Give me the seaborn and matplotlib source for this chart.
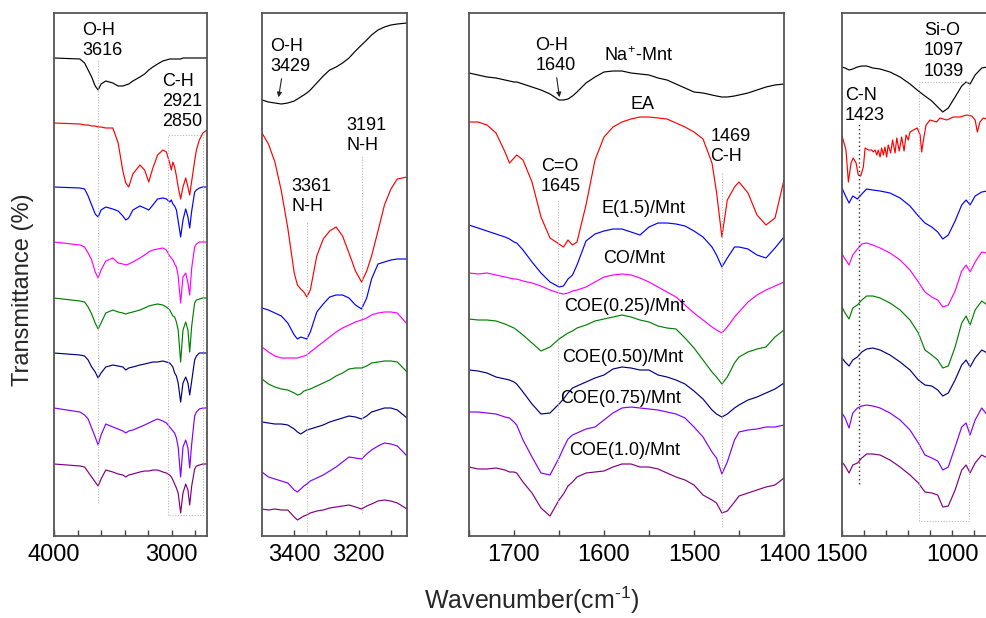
import matplotlib
matplotlib.use("Agg")
import matplotlib.pyplot as plt
import numpy as np
import pandas as pd
import seaborn as sns
from matplotlib.ticker import FixedLocator, FuncFormatter

# ---------------- data (arbitrary transmittance units, stacked) ----------------
SAMPLES = ["Na+-Mnt", "EA", "E(1.5)/Mnt", "CO/Mnt",
           "COE(0.25)/Mnt", "COE(0.50)/Mnt", "COE(0.75)/Mnt", "COE(1.0)/Mnt"]
COLORS = ["#000000", "#FF0000", "#0000FF", "#FF00FF",
          "#008000", "#000080", "#8000FF", "#800080"]

# Panel 1: 4000-2700 cm-1
P1_W = [4000, 3780, 3740, 3710, 3680, 3650, 3625, 3600, 3560, 3500, 3455, 3415, 3390,
        3365, 3330, 3270, 3230, 3195, 3160, 3120, 3075, 3045, 3017, 3003, 2990, 2975,
        2960, 2945, 2924, 2904, 2881, 2862, 2847, 2830, 2805, 2790, 2765, 2735, 2700]
P1_NA = [478, 477, 473, 466, 459, 450, 446, 452, 455, 453, 450, 450, 451, 452, 455, 459,
         462, 466, 469, 472, 475, 476, 477, 477, 477, 477, 477, 477, 477, 478, 478, 478,
         478, 478, 478, 478, 478, 478, 478]
P1_EA = [413, 412, 411, 411, 410, 410, 409, 409, 408, 408, 393, 365, 353, 349, 362, 371,
         366, 354, 368, 381, 386, 384, 373, 366, 374, 369, 360, 349, 337, 349, 358, 349,
         341, 355, 375, 386, 396, 403, 406]
P1_E15 = [349, 348, 347, 340, 331, 322, 319, 326, 329, 327, 325, 320, 316, 318, 326, 330,
          328, 326, 331, 337, 338, 337, 334, 336, 332, 330, 326, 315, 299, 316, 327, 319,
          308, 325, 344, 346, 348, 349, 349]
P1_CO = [294, 291, 289, 283, 276, 264, 258, 266, 275, 278, 273, 272, 271, 272, 274, 278,
         281, 284, 286, 287, 288, 286, 280, 278, 276, 272, 269, 260, 233, 259, 263, 253,
         241, 268, 289, 292, 294, 294, 294]
P1_C025 = [238, 235, 234, 229, 222, 213, 207, 213, 223, 226, 224, 223, 222, 223, 224, 226,
           228, 230, 231, 232, 231, 229, 226, 223, 220, 219, 214, 206, 174, 206, 214, 206,
           184, 210, 233, 236, 237, 238, 238]
P1_C050 = [183, 181, 180, 176, 169, 164, 158, 163, 169, 171, 170, 169, 166, 168, 169, 171,
           172, 173, 174, 174, 175, 174, 173, 171, 169, 163, 160, 153, 134, 153, 159, 153,
           141, 155, 176, 180, 183, 183, 183]
P1_C075 = [128, 124, 121, 117, 108, 99, 91, 101, 112, 109, 107, 105, 103, 105, 106, 109,
           111, 113, 115, 117, 115, 113, 109, 107, 105, 103, 98, 89, 59, 89, 96, 88,
           68, 92, 120, 124, 127, 128, 128]
P1_C100 = [72, 70, 69, 64, 59, 54, 50, 57, 66, 64, 62, 61, 59, 61, 62, 64, 65, 65, 66, 66,
           64, 63, 61, 59, 56, 52, 48, 43, 23, 43, 52, 46, 31, 50, 67, 70, 71, 72, 72]

# Panel 2: 3500-3050 cm-1
P2_W = [3500, 3480, 3460, 3440, 3420, 3400, 3390, 3380, 3370, 3361, 3350, 3330, 3310,
        3290, 3270, 3250, 3230, 3210, 3191, 3175, 3160, 3140, 3120, 3100, 3080, 3050]
P2_NA = [436, 434, 433, 432, 433, 435, 437, 439, 441, 443, 446, 453, 460, 466, 469, 473,
         478, 485, 491, 496, 501, 506, 509, 511, 512, 513]
P2_EA = [403, 392, 374, 345, 308, 263, 251, 247, 244, 239, 246, 280, 297, 305, 309, 300,
         283, 265, 254, 265, 280, 305, 331, 347, 357, 359]
P2_E15 = [228, 226, 223, 220, 213, 201, 197, 199, 198, 197, 204, 224, 232, 239, 241, 241,
          238, 231, 227, 238, 257, 272, 274, 276, 277, 277]
P2_CO = [189, 184, 180, 178, 178, 178, 178, 179, 180, 181, 184, 189, 194, 199, 204, 208,
         211, 214, 216, 218, 221, 223, 224, 224, 223, 212]
P2_C025 = [157, 152, 149, 147, 146, 143, 141, 142, 145, 146, 147, 150, 153, 156, 160, 163,
           167, 168, 168, 170, 173, 174, 175, 175, 174, 164]
P2_C050 = [114, 113, 112, 112, 111, 107, 104, 102, 104, 106, 107, 109, 111, 114, 116, 118,
           120, 119, 117, 120, 124, 126, 128, 128, 126, 118]
P2_C075 = [64, 59, 57, 55, 53, 46, 44, 47, 50, 52, 55, 58, 61, 65, 69, 74, 79, 78, 77, 82,
           86, 90, 93, 92, 90, 80]
P2_C100 = [27, 26, 27, 26, 26, 19, 16, 18, 20, 21, 23, 25, 26, 28, 29, 30, 31, 29, 27, 30,
           32, 35, 36, 35, 33, 27]

# Panel 3: 1750-1400 cm-1
P3_W = [1750, 1740, 1730, 1720, 1710, 1705, 1700, 1697, 1690, 1680, 1670, 1660, 1650,
        1645, 1640, 1635, 1630, 1620, 1610, 1600, 1590, 1580, 1570, 1560, 1550, 1540,
        1530, 1520, 1510, 1500, 1490, 1480, 1475, 1469, 1463, 1455, 1450, 1440, 1430,
        1420, 1410, 1400]
P3_NA = [463, 461, 459, 458, 456, 455, 454, 454, 452, 449, 446, 442, 436, 436, 437, 440,
         444, 453, 459, 464, 465, 465, 463, 462, 461, 458, 456, 452, 448, 444, 443, 441,
         440, 439, 439, 440, 441, 443, 446, 449, 451, 452]
P3_EA = [414, 414, 411, 403, 384, 373, 378, 381, 376, 354, 319, 298, 292, 289, 296, 291,
         294, 331, 376, 399, 409, 414, 417, 419, 419, 418, 417, 413, 409, 404, 397, 373,
         344, 299, 336, 349, 354, 343, 321, 311, 318, 356]
P3_E15 = [311, 308, 305, 302, 299, 297, 294, 293, 286, 274, 263, 254, 249, 250, 257, 261,
          271, 295, 302, 305, 307, 307, 304, 301, 309, 313, 313, 312, 310, 305, 299, 289,
          281, 269, 278, 289, 289, 287, 281, 278, 288, 299]
P3_CO = [263, 262, 263, 261, 259, 258, 257, 257, 255, 253, 250, 246, 243, 242, 243, 245,
         246, 249, 254, 259, 261, 262, 261, 258, 254, 249, 244, 239, 231, 223, 216, 209,
         206, 203, 209, 219, 224, 234, 241, 246, 250, 254]
P3_C025 = [217, 216, 216, 215, 212, 210, 208, 206, 201, 193, 185, 189, 197, 200, 203, 205,
           208, 211, 215, 217, 219, 221, 219, 216, 214, 210, 208, 207, 198, 188, 176, 164,
           159, 152, 159, 173, 179, 184, 187, 189, 199, 206]
P3_C050 = [166, 165, 163, 159, 157, 156, 154, 152, 144, 132, 122, 123, 132, 137, 143, 148,
           150, 154, 158, 161, 167, 169, 168, 166, 166, 161, 159, 156, 152, 145, 137, 126,
           122, 119, 122, 128, 131, 136, 139, 143, 147, 153]
P3_C075 = [124, 124, 123, 122, 119, 118, 114, 111, 96, 79, 63, 61, 78, 88, 97, 101, 103,
           107, 109, 116, 123, 128, 129, 128, 127, 126, 124, 122, 118, 109, 99, 84, 78, 62,
           74, 96, 104, 106, 107, 109, 109, 111]
P3_C100 = [69, 67, 67, 68, 66, 64, 64, 63, 54, 43, 28, 20, 36, 42, 50, 54, 59, 63, 64, 65,
           69, 72, 72, 69, 69, 67, 63, 59, 56, 51, 41, 36, 33, 23, 25, 34, 40, 43, 46, 49,
           51, 58]

# Panel 4: 1500-840 cm-1
P4_W = [1500, 1486, 1468, 1451, 1430, 1410, 1388, 1360, 1327, 1282, 1236, 1191, 1153,
        1123, 1092, 1065, 1042, 1017, 986, 956, 936, 918, 895, 865, 840]
P4_NA = [469, 468, 466, 467, 469, 470, 470, 468, 467, 464, 459, 452, 445, 440, 435, 429,
         424, 428, 439, 450, 454, 452, 461, 468, 469]
P4_EA_W = [1500, 1497, 1482, 1471, 1459, 1449, 1436, 1426, 1415, 1403, 1395, 1380, 1365,
           1358, 1350, 1342, 1335, 1327, 1320, 1312, 1305, 1297, 1290, 1279, 1270, 1259,
           1251, 1240, 1229, 1218, 1209, 1199, 1191, 1176, 1158, 1145, 1138, 1130, 1118,
           1100, 1070, 1055, 1024, 994, 964, 933, 910, 895, 885, 873, 858, 843]
P4_EA = [400, 398, 386, 354, 373, 378, 373, 361, 360, 369, 388, 386, 386, 384, 386, 381,
         386, 379, 388, 381, 389, 379, 391, 383, 396, 383, 398, 385, 399, 385, 401, 396,
         404, 406, 408, 401, 384, 396, 411, 416, 414, 418, 416, 419, 419, 421, 420, 416,
         404, 414, 418, 417]
P4_E15 = [348, 341, 333, 340, 337, 342, 347, 346, 345, 343, 338, 330, 320, 313, 309, 304,
          297, 301, 315, 331, 336, 331, 340, 344, 345]
P4_CO = [282, 277, 271, 281, 287, 292, 293, 291, 288, 283, 276, 266, 254, 244, 239, 236,
         229, 231, 245, 265, 271, 264, 274, 284, 283]
P4_C025 = [229, 223, 217, 228, 231, 236, 240, 240, 238, 233, 226, 216, 203, 186, 181, 176,
           168, 170, 189, 213, 220, 211, 226, 235, 231]
P4_C050 = [178, 174, 170, 176, 179, 184, 187, 188, 186, 181, 174, 166, 156, 151, 150, 146,
           140, 143, 156, 171, 176, 169, 178, 186, 183]
P4_C075 = [123, 118, 108, 123, 128, 130, 131, 130, 128, 123, 116, 106, 93, 81, 78, 75, 66,
           69, 89, 109, 113, 101, 116, 128, 121]
P4_C100 = [74, 70, 63, 71, 73, 78, 82, 82, 81, 76, 69, 61, 53, 44, 43, 41, 29, 30, 46, 66,
           71, 63, 73, 81, 78]

# band positions marked with guide lines
P1_OH_LINE = 3625
P1_CH_BOX = (3031, 2735)
P2_NH_LINES = [3361, 3191]
P3_LINES = [1651, 1469]
P4_CN_LINE = 1423
P4_SIO_BOX = (1148, 921)

# ---------------- style ----------------
sns.set_style("ticks")
plt.rcParams["font.family"] = ["Liberation Sans", "DejaVu Sans"]
plt.rcParams["mathtext.fontset"] = "custom"
plt.rcParams["mathtext.rm"] = "Liberation Sans"
plt.rcParams["mathtext.it"] = "Liberation Sans:italic"
plt.rcParams["mathtext.default"] = "regular"

W_PX, H_PX, DPI = 987, 618, 100
fig = plt.figure(figsize=(W_PX / DPI, H_PX / DPI), dpi=DPI)

TOP, BOT = 13, 536
def axes_px(x0, x1):
    return fig.add_axes([x0 / W_PX, (H_PX - BOT) / H_PX, (x1 - x0) / W_PX, (BOT - TOP) / H_PX])

ax1 = axes_px(54, 207)
ax2 = axes_px(262, 407)
ax3 = axes_px(469, 784)
ax4 = axes_px(842, 1000)

palette = dict(zip(SAMPLES, COLORS))


def frame(wlist, ylists, names):
    parts = []
    for w, y, n in zip(wlist, ylists, names):
        parts.append(pd.DataFrame({"wavenumber": w, "transmittance": y, "sample": n}))
    return pd.concat(parts, ignore_index=True)


def draw(ax, df, xlim, ticks, labelled):
    sns.lineplot(data=df, x="wavenumber", y="transmittance", hue="sample",
                 hue_order=SAMPLES, palette=palette, estimator=None, sort=True,
                 legend=False, lw=0.85, ax=ax)
    ax.set_xlim(*xlim)
    ax.set_ylim(0, BOT - TOP)
    ax.set_yticks([])
    ax.set_xlabel("")
    ax.set_ylabel("")
    ax.xaxis.set_major_locator(FixedLocator(ticks))
    ax.xaxis.set_major_formatter(FuncFormatter(lambda v, p: f"{v:.0f}" if round(v) in labelled else ""))
    ax.tick_params(axis="x", direction="in", length=4, width=1.0, labelsize=17, pad=6,
                   colors="#444444", labelcolor="black")
    for s in ax.spines.values():
        s.set_visible(True)
        s.set_color("#555555")
        s.set_linewidth(1.3)


df1 = frame([P1_W] * 8, [P1_NA, P1_EA, P1_E15, P1_CO, P1_C025, P1_C050, P1_C075, P1_C100], SAMPLES)
df2 = frame([P2_W] * 8, [P2_NA, P2_EA, P2_E15, P2_CO, P2_C025, P2_C050, P2_C075, P2_C100], SAMPLES)
df3 = frame([P3_W] * 8, [P3_NA, P3_EA, P3_E15, P3_CO, P3_C025, P3_C050, P3_C075, P3_C100], SAMPLES)
df4 = frame([P4_W, P4_EA_W] + [P4_W] * 6,
            [P4_NA, P4_EA, P4_E15, P4_CO, P4_C025, P4_C050, P4_C075, P4_C100], SAMPLES)

draw(ax1, df1, (4000, 2700), list(range(4000, 2699, -200)), {4000, 3000})
draw(ax2, df2, (3500, 3050), [3400, 3300, 3200, 3100], {3400, 3200})
draw(ax3, df3, (1750, 1400), list(range(1750, 1399, -50)), {1700, 1600, 1500, 1400})
draw(ax4, df4, (1500, 782), list(range(1500, 799, -100)), {1500, 1000})
ax4.spines["right"].set_visible(False)

GUIDE = dict(color="#B8B8B8", lw=0.8, linestyle=(0, (1, 1.5)))
FS = 13
TXT = dict(fontsize=FS, color="black", linespacing=1.25)

# Panel 1 annotations
ax1.vlines(P1_OH_LINE, 33, 476, **GUIDE)
bx0, bx1 = P1_CH_BOX
ax1.plot([bx0, bx0, bx1, bx1, bx0], [21, 401, 401, 21, 21], **GUIDE)
ax1.text(3757, 514, "O-H\n3616", ha="left", va="top", **TXT)
ax1.text(3082, 463, "C-H\n2921\n2850", ha="left", va="top", **TXT)

# Panel 2 annotations
ax2.vlines(P2_NH_LINES[0], 4, 314, **GUIDE)
ax2.vlines(P2_NH_LINES[1], 23, 381, **GUIDE)
ax2.text(3475, 498, "O-H\n3429", ha="left", va="top", **TXT)
ax2.annotate("", xy=(3450, 436), xytext=(3438, 460),
             arrowprops=dict(arrowstyle="-|>", color="#222222", lw=0.8, mutation_scale=7))
ax2.text(3239, 419, "3191\nN-H", ha="left", va="top", **TXT)
ax2.text(3409, 358, "3361\nN-H", ha="left", va="top", **TXT)

# Panel 3 annotations
ax3.vlines(P3_LINES[0], 29, 336, **GUIDE)
ax3.vlines(P3_LINES[1], 9, 364, **GUIDE)
ax3.text(1676, 499, "O-H\n1640", ha="left", va="top", **TXT)
ax3.annotate("", xy=(1649, 436), xytext=(1653, 461),
             arrowprops=dict(arrowstyle="-|>", color="#222222", lw=0.8, mutation_scale=7))
ax3.text(1670, 378, "C=O\n1645", ha="left", va="top", **TXT)
ax3.text(1482, 408, "1469\nC-H", ha="left", va="top", **TXT)
for label, x, y in [("Na$^{+}$-Mnt", 1600, 475), ("EA", 1570, 427),
                    ("E(1.5)/Mnt", 1603, 323), ("CO/Mnt", 1601, 273),
                    ("COE(0.25)/Mnt", 1644, 225), ("COE(0.50)/Mnt", 1647, 174),
                    ("COE(0.75)/Mnt", 1649, 133), ("COE(1.0)/Mnt", 1639, 81)]:
    ax3.text(x, y, label, ha="left", va="baseline", **TXT)

# Panel 4 annotations
ax4.vlines(P4_CN_LINE, 52, 413, color="#333333", lw=1.0, linestyle=(0, (1, 2)))
sx0, sx1 = P4_SIO_BOX
ax4.plot([sx0, sx0, sx1, sx1, sx0], [15, 454, 454, 15, 15], **GUIDE)
ax4.text(1486, 449, "C-N\n1423", ha="left", va="top", **TXT)
ax4.text(1127, 514, "Si-O\n1097\n1039", ha="left", va="top", **TXT)

fig.text(532 / W_PX, (H_PX - 609) / H_PX, r"Wavenumber(cm$^{\text{-1}}$)", ha="center",
         va="baseline", fontsize=18)
fig.text(23 / W_PX, (H_PX - 290) / H_PX, "Transmittance (%)", rotation=90,
         ha="center", va="center", fontsize=17)

fig.savefig("out.png", dpi=DPI)
